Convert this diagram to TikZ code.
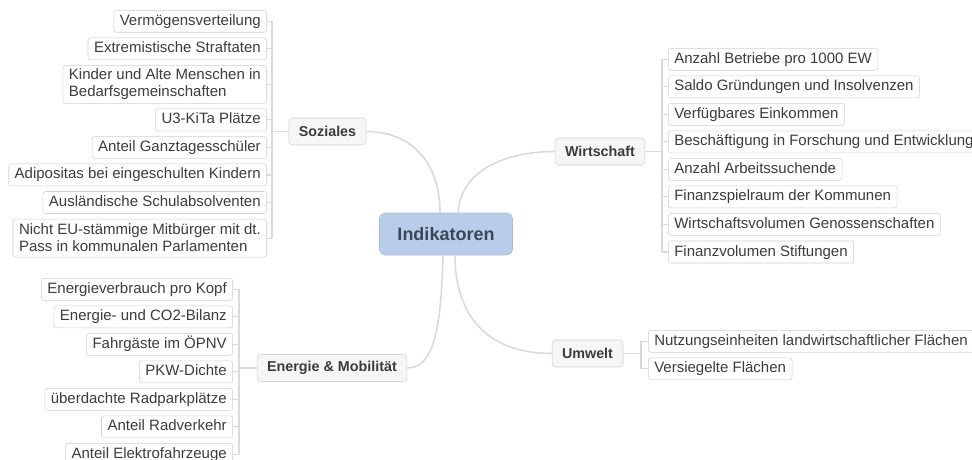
\documentclass[tikz,border=0pt]{standalone}
\usepackage{fontspec}
\setmainfont{Liberation Sans}
\usepackage{tikz}
\usetikzlibrary{positioning}
\definecolor{hubblue}{HTML}{B9CCEA}
\definecolor{hubtext}{HTML}{3B4657}
\definecolor{leaftext}{HTML}{3C3C3C}
\definecolor{linegray}{HTML}{DADADA}
\definecolor{boxgray}{HTML}{D0D0D0}

\begin{document}
\begin{tikzpicture}[x=0.75pt, y=-0.75pt,
    hub/.style={fill=hubblue, draw=hubblue!92!black, rounded corners=4pt, minimum width=99.75pt, minimum height=31.5pt, text=hubtext, font=\fontsize{13.5}{15}\selectfont\bfseries},
    branch/.style={fill=gray!7, draw=boxgray, rounded corners=3pt, minimum height=20.25pt, inner xsep=7.5pt, text=leaftext, font=\fontsize{10.75}{12}\selectfont\bfseries},
    leafbase/.style={fill=white, draw=boxgray, rounded corners=2pt, inner xsep=4.5pt, inner ysep=2.65pt, text=leaftext, font=\fontsize{11.25}{12.75}\selectfont},
    leaf/.style={leafbase, text height=8.6pt, text depth=2.6pt},
    leaftwo/.style={leafbase, align=left, minimum height=28.5pt},
    limb/.style={linegray, line width=1.2pt},
    twig/.style={linegray, line width=0.8pt}
]
\useasboundingbox (0,0) rectangle (972,460);

% center and main branches
\node[hub] (ind) at (446,234) {Indikatoren};
\node[branch] (soz) at (327.5,131.5) {Soziales};
\node[branch] (wir) at (600,151.5) {Wirtschaft};
\node[branch] (umw) at (587.5,353.5) {Umwelt};
\node[branch] (ene) at (332,368) {Energie \& Mobilität};

% Soziales
\node[leaf, anchor=north east] (s1) at (267,10) {Vermögensverteilung};
\node[leaf, below=3.75pt of s1.south east, anchor=north east] (s2) {Extremistische Straftaten};
\node[leaftwo, below=3.75pt of s2.south east, anchor=north east] (s3) {Kinder und Alte Menschen in\\Bedarfsgemeinschaften};
\node[leaf, below=3.75pt of s3.south east, anchor=north east] (s4) {U3-KiTa Plätze};
\node[leaf, below=3.75pt of s4.south east, anchor=north east] (s5) {Anteil Ganztagesschüler};
\node[leaf, below=3.75pt of s5.south east, anchor=north east] (s6) {Adipositas bei eingeschulten Kindern};
\node[leaf, below=3.75pt of s6.south east, anchor=north east] (s7) {Ausländische Schulabsolventen};
\node[leaftwo, below=3.75pt of s7.south east, anchor=north east] (s8) {Nicht EU-stämmige Mitbürger mit dt.\\Pass in kommunalen Parlamenten};

% Wirtschaft
\node[leaf, anchor=north west] (w1) at (668,48) {Anzahl Betriebe pro 1000 EW};
\node[leaf, below=3.75pt of w1.south west, anchor=north west] (w2) {Saldo Gründungen und Insolvenzen};
\node[leaf, below=3.75pt of w2.south west, anchor=north west] (w3) {Verfügbares Einkommen};
\node[leaf, below=3.75pt of w3.south west, anchor=north west] (w4) {Beschäftigung in Forschung und Entwicklung};
\node[leaf, below=3.75pt of w4.south west, anchor=north west] (w5) {Anzahl Arbeitssuchende};
\node[leaf, below=3.75pt of w5.south west, anchor=north west] (w6) {Finanzspielraum der Kommunen};
\node[leaf, below=3.75pt of w6.south west, anchor=north west] (w7) {Wirtschaftsvolumen Genossenschaften};
\node[leaf, below=3.75pt of w7.south west, anchor=north west] (w8) {Finanzvolumen Stiftungen};

% Energie & Mobilitaet
\node[leaf, anchor=north east] (e1) at (233,278) {Energieverbrauch pro Kopf};
\node[leaf, below=3.75pt of e1.south east, anchor=north east] (e2) {Energie- und CO2-Bilanz};
\node[leaf, below=3.75pt of e2.south east, anchor=north east] (e3) {Fahrgäste im ÖPNV};
\node[leaf, below=3.75pt of e3.south east, anchor=north east] (e4) {PKW-Dichte\ };
\node[leaf, below=3.75pt of e4.south east, anchor=north east] (e5) {überdachte Radparkplätze};
\node[leaf, below=3.75pt of e5.south east, anchor=north east] (e6) {Anteil Radverkehr};
\node[leaf, below=3.75pt of e6.south east, anchor=north east] (e7) {Anteil Elektrofahrzeuge};

% Umwelt
\node[leaf, anchor=north west] (u1) at (648,330) {Nutzungseinheiten landwirtschaftlicher Flächen};
\node[leaf, below=3.75pt of u1.south west, anchor=north west] (u2) {Versiegelte Flächen};

% bracket points
\coordinate (sb) at (272,0);
\coordinate (wb) at (662,0);
\coordinate (eb) at (239,0);
\coordinate (ub) at (641,0);

% curves from the center
\draw[limb] (soz.east) .. controls +(45,0) and +(0,-50) .. ([xshift=-4.5pt]ind.north);
\draw[limb] ([xshift=9pt]ind.north) .. controls +(3,-45) and +(-45,0) .. (wir.west);
\draw[limb] ([xshift=-2.25pt]ind.south) .. controls +(-2,80) and +(25,0) .. (ene.east);
\draw[limb] ([xshift=6.75pt]ind.south) .. controls +(0,65) and +(-60,0) .. (umw.west);

% Soziales lines
\draw[twig] (soz.west) -- (sb |- soz.west);
\draw[twig] (sb |- s1) -- (sb |- s8);
\draw[twig] (s1.east) -- (sb |- s1);
\draw[twig] (s2.east) -- (sb |- s2);
\draw[twig] (s3.east) -- (sb |- s3);
\draw[twig] (s4.east) -- (sb |- s4);
\draw[twig] (s5.east) -- (sb |- s5);
\draw[twig] (s6.east) -- (sb |- s6);
\draw[twig] (s7.east) -- (sb |- s7);
\draw[twig] (s8.east) -- (sb |- s8);

% Wirtschaft lines
\draw[twig] (wir.east) -- (wb |- wir.east);
\draw[twig] (wb |- w1) -- (wb |- w8);
\draw[twig] (w1.west) -- (wb |- w1);
\draw[twig] (w2.west) -- (wb |- w2);
\draw[twig] (w3.west) -- (wb |- w3);
\draw[twig] (w4.west) -- (wb |- w4);
\draw[twig] (w5.west) -- (wb |- w5);
\draw[twig] (w6.west) -- (wb |- w6);
\draw[twig] (w7.west) -- (wb |- w7);
\draw[twig] (w8.west) -- (wb |- w8);

% Energie lines
\draw[twig] (ene.west) -- (eb |- ene.west);
\draw[twig] (eb |- e1) -- (eb |- e7);
\draw[twig] (e1.east) -- (eb |- e1);
\draw[twig] (e2.east) -- (eb |- e2);
\draw[twig] (e3.east) -- (eb |- e3);
\draw[twig] (e4.east) -- (eb |- e4);
\draw[twig] (e5.east) -- (eb |- e5);
\draw[twig] (e6.east) -- (eb |- e6);
\draw[twig] (e7.east) -- (eb |- e7);

% Umwelt lines
\draw[twig] (umw.east) -- (ub |- umw.east);
\draw[twig] (ub |- u1) -- (ub |- u2);
\draw[twig] (u1.west) -- (ub |- u1);
\draw[twig] (u2.west) -- (ub |- u2);
\end{tikzpicture}
\end{document}
